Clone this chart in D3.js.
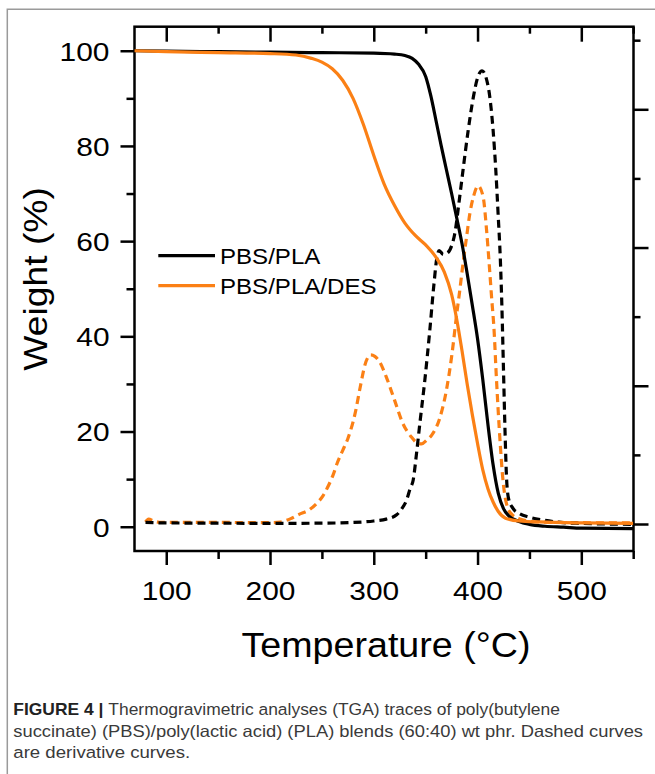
<!DOCTYPE html>
<html>
<head>
<meta charset="utf-8">
<script src="https://cdn.jsdelivr.net/npm/d3@7"></script>
<style>
    body { margin: 0; background: #fff; }
    svg { display: block; }
    text { font-family: "Liberation Sans", Arial, sans-serif; }
</style>
</head>
<body>
<script>
//TGA traces of PBS/PLA blends, solid = weight, dashed = derivative
(function(){

    //series names for the legend
    var seriesNames = ["PBS/PLA", "PBS/PLA/DES"];

    //weight (%) vs temperature (°C), PBS/PLA
    var tgaPbsPla = [[69,100],[100,99.9],[150,99.8],[200,99.7],[250,99.6],[300,99.5],[320,99.3],[330,99.0],
        [337,98.4],[343,97.2],[350,94.6],[355,90.5],[360,85.3],[365,80],[370,75],[375,70],[380,64.8],
        [385,59.5],[390,53.2],[395,46.5],[400,39.5],[405,31],[410,21.5],[415,13],[420,7],[425,3.8],
        [430,2.3],[440,1.1],[450,0.5],[465,0.1],[483,-0.1],[500,-0.3],[550,-0.4]];

    //weight (%) vs temperature (°C), PBS/PLA/DES
    var tgaPbsPlaDes = [[69,100],[100,99.8],[150,99.6],[200,99.4],[225,99.1],[240,98.4],[250,97.6],
        [260,96.2],[270,93.8],[280,90],[290,84.5],[300,78],[310,72],[320,67.5],[330,63.8],[340,61.2],
        [350,59.2],[360,56.6],[368,53.5],[375,48.8],[380,43.5],[385,37],[390,30],[395,23.5],[400,17.5],
        [405,12],[410,8],[415,5.2],[420,3.2],[427,1.8],[440,1.2],[460,1],[500,0.8],[550,0.7]];

    //derivative curves, read against the weight grid
    var dtgPbsPla = [[80,0.9],[100,0.8],[150,0.75],[200,0.7],[250,0.75],[280,0.9],[300,1.2],[312,1.6],
        [322,2.5],[327,3.8],[331.6,5.6],[335,8],[338,9.8],[341.2,15.4],[344.4,21.7],[349.2,30.8],
        [354,41.3],[358,51],[361,56.8],[363,58],[367,57.2],[371,57.5],[375,59],[378,61.5],[382,67.9],
        [386,74.9],[391,83.3],[396,90.3],[400,94.3],[404.4,95.8],[408,94.5],[411.8,90.3],[415,83.3],
        [417.6,74.9],[419.8,65.8],[422,56],[423.5,46],[425,33],[426.5,20],[428,10],[430,5.8],[434,3.9],
        [440,2.8],[450,2],[463,1.4],[480,0.9],[500,0.7],[550,0.5]];

    var dtgPbsPlaDes = [[80,1.0],[83,1.6],[88,1.2],[95,0.9],[150,0.9],[200,0.85],[210,1.0],[220,1.7],
        [228,2.6],[238,3.6],[245,4.9],[251,6.5],[256,8.5],[261,11],[265,13.5],[270,16],[275,18.5],
        [282,23.8],[287,29.4],[291.5,34],[297,36.1],[301,35.8],[306,34.5],[312,31.5],[320,26.6],
        [328,21.7],[336,18.9],[342,17.6],[346,17.4],[351,18.2],[356,19.3],[364,23.1],[370,28.7],
        [375,35.7],[380,44.8],[382.5,49],[386,55.3],[389.5,61],[392.6,65.8],[396,69.3],[400.6,71.6],
        [405.4,69.3],[408.7,62.3],[411.2,55.3],[413.5,48.3],[416,41],[418,32],[420,24],[422,17],
        [424,11],[426,7],[429,4],[433,2.6],[440,1.7],[455,1.05],[480,0.9],[550,0.8]];

    //tick values
    var xMajor = [100, 200, 300, 400, 500],
        xMinor = [150, 250, 350, 450, 550],
        yMajor = [0, 20, 40, 60, 80, 100],
        yMinor = [10, 30, 50, 70, 90],
        dMajor = [0, 1, 2, 3],
        dMinor = [0.5, 1.5, 2.5, 3.5];

    var captionLines = [
        ["FIGURE 4 | ", "Thermogravimetric analyses (TGA) traces of poly(butylene"],
        ["", "succinate) (PBS)/poly(lactic acid) (PLA) blends (60:40) wt phr. Dashed curves"],
        ["", "are derivative curves."]
    ];

    var black = "#000",
        orange = "#fb8015";

    var width = 655,
        height = 774;

    var svg = d3.select("body")
        .append("svg")
        .attr("width", width)
        .attr("height", height);

    //figure frame (only top and left show)
    svg.append("path")
        .attr("d", "M7.3,774V9.3H655")
        .attr("fill", "none")
        .attr("stroke", "#9a9a9a")
        .attr("stroke-width", 1.5);

    var left = 134.5, right = 633.5, top = 26.7, bottom = 551;

    var x = d3.scaleLinear()
        .domain([69.4, 550.3])
        .range([left, right]);

    var y = d3.scaleLinear()
        .domain([-5.1, 105.05])
        .range([bottom, top]);

    //right axis for the derivative, no labels
    var y2 = d3.scaleLinear()
        .domain([0, 3])
        .range([524, 109.3]);

    //stretch text a bit wider like the original
    function stretch(sel, k){
        sel.each(function(){
            var w = this.getComputedTextLength();
            d3.select(this)
                .attr("textLength", w * k)
                .attr("lengthAdjust", "spacingAndGlyphs");
        });
    };

    function styleAxis(g){
        g.select(".domain").remove();
        g.selectAll("line").attr("stroke", "#000").attr("stroke-width", 2.5);
    };

    //bottom axis
    var bottomMajor = svg.append("g")
        .attr("transform", "translate(0," + bottom + ")")
        .call(d3.axisBottom(x).tickValues(xMajor).tickSize(14).tickSizeOuter(0).tickPadding(17).tickFormat(d3.format("d")))
        .call(styleAxis);
    svg.append("g")
        .attr("transform", "translate(0," + bottom + ")")
        .call(d3.axisBottom(x).tickValues(xMinor).tickSize(8).tickSizeOuter(0).tickFormat(""))
        .call(styleAxis);

    //top axis, ticks inward
    svg.append("g")
        .attr("transform", "translate(0," + top + ")")
        .call(d3.axisTop(x).tickValues(xMajor).tickSize(-15).tickSizeOuter(0).tickFormat(""))
        .call(styleAxis);
    svg.append("g")
        .attr("transform", "translate(0," + top + ")")
        .call(d3.axisTop(x).tickValues(xMinor).tickSize(-7).tickSizeOuter(0).tickFormat(""))
        .call(styleAxis);

    //left axis
    var leftMajor = svg.append("g")
        .attr("transform", "translate(" + left + ",0)")
        .call(d3.axisLeft(y).tickValues(yMajor).tickSize(14).tickSizeOuter(0).tickPadding(11).tickFormat(d3.format("d")))
        .call(styleAxis);
    svg.append("g")
        .attr("transform", "translate(" + left + ",0)")
        .call(d3.axisLeft(y).tickValues(yMinor).tickSize(8).tickSizeOuter(0).tickFormat(""))
        .call(styleAxis);

    //right axis
    svg.append("g")
        .attr("transform", "translate(" + right + ",0)")
        .call(d3.axisRight(y2).tickValues(dMajor).tickSize(15).tickSizeOuter(0).tickFormat(""))
        .call(styleAxis);
    svg.append("g")
        .attr("transform", "translate(" + right + ",0)")
        .call(d3.axisRight(y2).tickValues(dMinor).tickSize(7).tickSizeOuter(0).tickFormat(""))
        .call(styleAxis);

    //tick label text
    bottomMajor.selectAll("text")
        .attr("font-size", 26)
        .attr("font-family", "Liberation Sans, Arial, sans-serif")
        .attr("fill", "#000")
        .call(stretch, 1.15);
    leftMajor.selectAll("text")
        .attr("font-size", 26)
        .attr("font-family", "Liberation Sans, Arial, sans-serif")
        .attr("fill", "#000")
        .attr("dy", "0.36em")
        .call(stretch, 1.15);

    //plot frame
    svg.append("rect")
        .attr("x", left)
        .attr("y", top)
        .attr("width", right - left)
        .attr("height", bottom - top)
        .attr("fill", "none")
        .attr("stroke", "#000")
        .attr("stroke-width", 2.5);

    svg.append("clipPath")
        .attr("id", "plotClip")
        .append("rect")
        .attr("x", left)
        .attr("y", top)
        .attr("width", right - left)
        .attr("height", bottom - top);

    var line = d3.line()
        .x(function(d){ return x(d[0]); })
        .y(function(d){ return y(d[1]); })
        .curve(d3.curveMonotoneX);

    var curves = [
        {data: dtgPbsPlaDes, color: orange, dash: "8,5"},
        {data: dtgPbsPla, color: black, dash: "8,5"},
        {data: tgaPbsPla, color: black, dash: null},
        {data: tgaPbsPlaDes, color: orange, dash: null}
    ];

    svg.append("g")
        .attr("clip-path", "url(#plotClip)")
        .selectAll(".curve")
        .data(curves)
        .enter()
        .append("path")
        .attr("class", "curve")
        .attr("d", function(d){ return line(d.data); })
        .attr("fill", "none")
        .attr("stroke", function(d){ return d.color; })
        .attr("stroke-width", 3.2)
        .attr("stroke-dasharray", function(d){ return d.dash; });

    //legend
    var legend = svg.selectAll(".legend")
        .data(seriesNames)
        .enter()
        .append("g")
        .attr("class", "legend")
        .attr("transform", function(d, i){ return "translate(158.3," + (255.7 + i * 30) + ")"; });

    legend.append("line")
        .attr("x1", 0)
        .attr("x2", 56.7)
        .attr("stroke", function(d, i){ return i == 0 ? black : orange; })
        .attr("stroke-width", 3.3);

    legend.append("text")
        .attr("x", 61.7)
        .attr("y", 8.6)
        .attr("font-size", 21.5)
        .text(function(d){ return d; })
        .call(stretch, 1.12);

    //axis titles
    svg.append("text")
        .attr("x", 386)
        .attr("y", 657.3)
        .attr("text-anchor", "middle")
        .attr("font-size", 35.5)
        .text("Temperature (°C)")
        .call(stretch, 1.06);

    svg.append("text")
        .attr("transform", "translate(46.7,279) rotate(-90)")
        .attr("text-anchor", "middle")
        .attr("font-size", 33)
        .text("Weight (%)")
        .call(stretch, 1.13);

    //caption, each line scaled to the original line width
    var captionWidths = [547, 630, 177];
    captionLines.forEach(function(parts, i){
        var t = svg.append("text")
            .attr("font-size", 16.5)
            .attr("fill", "#3a3a3a");
        if (parts[0]){
            t.append("tspan")
                .attr("font-weight", "bold")
                .attr("fill", "#222")
                .text(parts[0]);
        };
        t.append("tspan").text(parts[1]);
        var w = t.node().getBBox().width;
        t.attr("transform", "translate(13.3," + (715 + i * 21.5) + ") scale(" + (captionWidths[i] / w) + ",1)");
    });

})();
</script>
</body>
</html>
